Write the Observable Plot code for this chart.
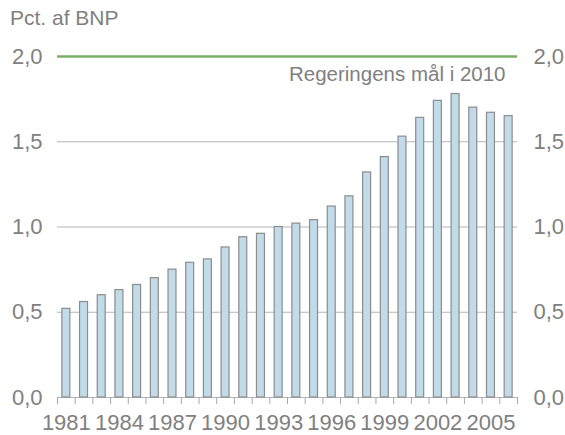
<!DOCTYPE html>
<html>
<head>
<meta charset="utf-8">
<script src="https://cdn.jsdelivr.net/npm/d3@7"></script>
<script src="https://cdn.jsdelivr.net/npm/@observablehq/plot@0.6"></script>
<style>
  body { margin: 0; background: #fff; font-family: "Liberation Sans", Arial, sans-serif; }
  #wrap { position: relative; width: 565px; height: 435px; }
  #title { position: absolute; left: 10px; top: 6px; font-size: 21px; color: #808080; line-height: 24px; }
</style>
</head>
<body>
<div id="wrap">
  <div id="title">Pct. af BNP</div>
</div>
<script>
const years = [1981,1982,1983,1984,1985,1986,1987,1988,1989,1990,1991,1992,1993,1994,1995,1996,1997,1998,1999,2000,2001,2002,2003,2004,2005,2006];
const values = [0.52,0.56,0.60,0.63,0.66,0.70,0.75,0.79,0.81,0.88,0.94,0.96,1.00,1.02,1.04,1.12,1.18,1.32,1.41,1.53,1.64,1.74,1.78,1.70,1.67,1.65];
const yTicks = [0, 0.5, 1.0, 1.5, 2.0];
const labelYears = [1981,1984,1987,1990,1993,1996,1999,2002,2005];
const targetValue = [2.0];
const targetLabel = ["Regeringens mål i 2010"];

const data = years.map((y, i) => ({year: y, value: values[i]}));

const W = 565, H = 435, mL = 57, mR = 48, mT = 56, mB = 38;
const step = (W - mL - mR) / years.length;
const gray = "#808080";
const fmt = d => d.toFixed(1).replace(".", ",");

const chart = Plot.plot({
  width: W, height: H,
  marginLeft: mL, marginRight: mR, marginTop: mT, marginBottom: mB,
  style: {fontFamily: "Liberation Sans, Arial, sans-serif", fontSize: "22px", color: gray, background: "#fff", overflow: "visible"},
  x: {type: "band", domain: years, paddingInner: 0.55, paddingOuter: 0.275, round: false, label: null},
  y: {domain: [0, 2], nice: false, label: null},
  marks: [
    Plot.ruleY(yTicks.filter(d => d < 2), {y: d => d, stroke: "#b4b4b4", strokeWidth: 1.2}),
    Plot.ruleY(targetValue, {y: d => d, stroke: "#78b06a", strokeWidth: 2.5}),
    Plot.barY(data, {x: "year", y: "value", fill: "#c2dbe8", stroke: "#8c8c8c", strokeWidth: 1.2}),
    Plot.axisX({ticks: years, tickFormat: () => "", tickSize: 7, dx: -step / 2, stroke: "#a8a8a8", label: null}),
    Plot.axisX({ticks: [years[years.length - 1]], tickFormat: () => "", tickSize: 7, dx: step / 2, stroke: "#a8a8a8", label: null}),
    Plot.axisX({ticks: labelYears, tickFormat: d => String(d), tickSize: 0, tickPadding: 17, fill: gray, fontSize: 22, label: null}),
    Plot.axisY({anchor: "left", ticks: yTicks, tickFormat: fmt, tickSize: 0, tickPadding: 15, fill: gray, fontSize: 22, label: null}),
    Plot.axisY({anchor: "right", ticks: yTicks, tickFormat: fmt, tickSize: 0, tickPadding: 16, fill: gray, fontSize: 22, label: null}),
    Plot.text(targetLabel, {text: d => d, frameAnchor: "top-right", textAnchor: "end", lineAnchor: "middle", dx: -12, dy: 18, fill: gray, fontSize: 20.5})
  ]
});
document.getElementById("wrap").appendChild(chart);
</script>
</body>
</html>
